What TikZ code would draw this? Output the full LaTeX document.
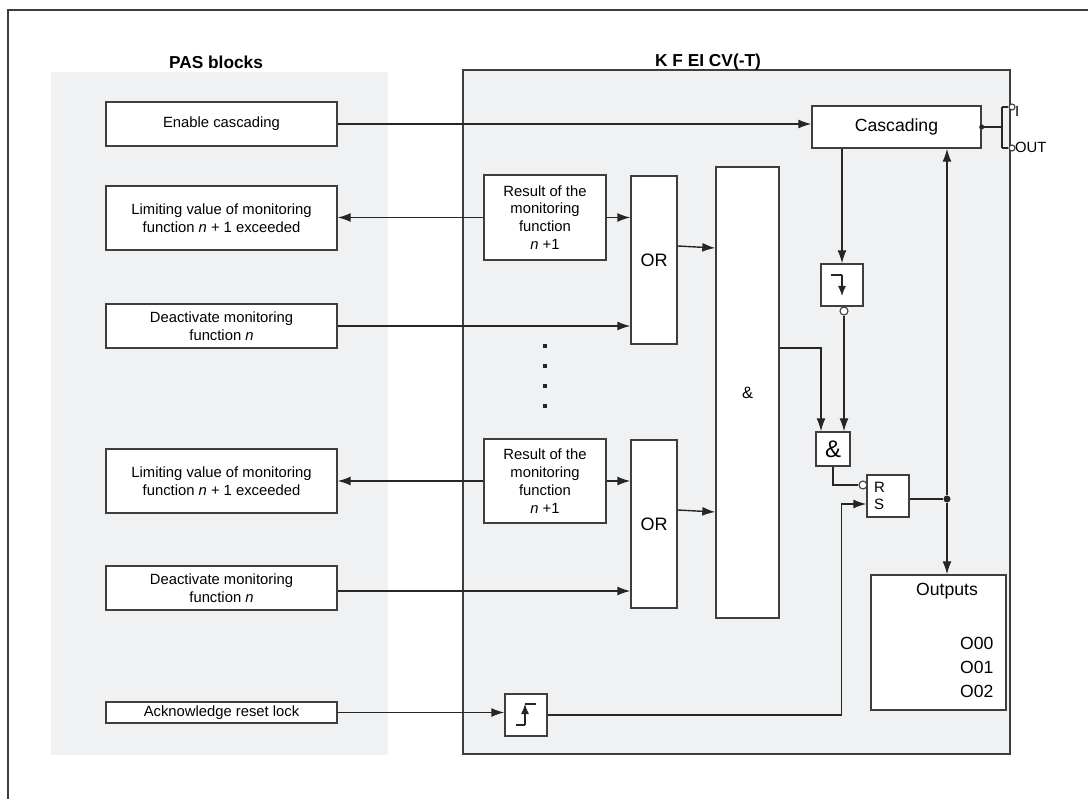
\documentclass[tikz,border=0pt]{standalone}
\usepackage{fontspec}
\setmainfont{Liberation Sans}
\usepackage{xcolor}
\usepackage{tikz}
\usetikzlibrary{calc}
\usetikzlibrary{arrows.meta}
\usetikzlibrary{shapes}
\usetikzlibrary{positioning}

\definecolor{panel}{RGB}{240,241,243}
\definecolor{edge}{RGB}{62,62,62}
\definecolor{wire}{RGB}{38,38,38}

\newcommand{\txtsz}{\fontsize{14.8}{17.8}\selectfont}
\newcommand{\bigsz}{\fontsize{17.6}{20}\selectfont}

\tikzset{
  pasbox/.style={rectangle, draw=edge, fill=white, line width=1.4pt, minimum width=231pt, align=center, inner sep=0pt, font=\txtsz},
  gatebox/.style={rectangle, draw=edge, fill=white, line width=1.4pt, inner sep=0pt, align=center},
  wirearrow/.style={-{Latex[length=13pt,width=9pt]}, draw=wire, line width=1.4pt},
  edgearrow/.style={-{Latex[length=10pt,width=8pt]}, draw=wire, line width=1.2pt},
  wireline/.style={draw=wire, line width=1.4pt},
  negc/.style={circle, draw=edge, fill=white, line width=1.1pt, inner sep=0pt, minimum size=8pt},
  swc/.style={circle, draw=edge, fill=white, line width=1.1pt, inner sep=0pt, minimum size=6pt},
  vdot/.style={rectangle, fill=wire, inner sep=0pt, minimum size=4.5pt},
  jdot/.style={circle, fill=wire, inner sep=0pt, minimum size=5pt},
}

\begin{document}
\begin{tikzpicture}[x=1pt, y=-1pt]
\useasboundingbox (0,0) rectangle (1088,799);
\draw [draw=edge, line width=1.4pt] (1088,10) -- (8,10) -- (8,799);

\fill [panel] (51,72) rectangle (388,755);
\node [font=\fontsize{17.3}{20}\selectfont\bfseries] (pastitle) at (216,62) {PAS blocks};
\draw [draw=edge, fill=panel, line width=1.4pt] (463,70) rectangle (1010,754);
\node [font=\fontsize{17.3}{20}\selectfont\bfseries] (kftitle) at (708,62) {K F EI CV(-T)};

\node [pasbox, minimum height=44pt] (enable) at (221.5,124) {Enable cascading};
\node [pasbox, minimum height=64pt] (limit1) at (221.5,218) {Limiting value of monitoring\\function \textit{n} + 1 exceeded};
\node [pasbox, minimum height=44pt] (deact1) at (221.5,326) {Deactivate monitoring\\function \textit{n}};
\node [pasbox, minimum height=64pt] (limit2) at (221.5,481) {Limiting value of monitoring\\function \textit{n} + 1 exceeded};
\node [pasbox, minimum height=44pt] (deact2) at (221.5,588) {Deactivate monitoring\\function \textit{n}};
\node [pasbox, minimum height=21pt] (ack) at (221.5,712.5) {Acknowledge reset lock};

\node [gatebox, font=\txtsz, minimum width=122pt, minimum height=85pt] (res1) at (545,217.5) {Result of the\\monitoring\\function\\\textit{n} +1};
\node [gatebox, font=\txtsz, minimum width=122pt, minimum height=84pt] (res2) at (545,481) {Result of the\\monitoring\\function\\\textit{n} +1};
\node [gatebox, font=\fontsize{18}{20}\selectfont, minimum width=46pt, minimum height=168pt] (or1) at (654,260) {OR};
\node [gatebox, font=\fontsize{18}{20}\selectfont, minimum width=46pt, minimum height=168pt] (or2) at (654,524) {OR};
\node [gatebox, font=\fontsize{16.5}{20}\selectfont, minimum width=63pt, minimum height=451pt] (band) at (747.5,392.5) {\&};
\foreach \i in {0,...,3}
  \node [vdot] (dot\i) at (545,346+20*\i) {};

\node [gatebox, font=\bigsz, minimum width=169pt, minimum height=42pt] (casc) at (896.5,127) {Cascading};
\node [gatebox, minimum width=42pt, minimum height=42pt] (fall) at (842,285) {};
\node [negc] (neg1) at (844,311) {};
\node [gatebox, font=\fontsize{24}{26}\selectfont, minimum width=34pt, minimum height=34pt] (sand) at (833,449) {\&};
\node [gatebox, minimum width=42pt, minimum height=42pt, text width=28pt, align=left, font=\fontsize{15}{17}\selectfont] (rs) at (888,496) {R\\S};
\node [negc] (neg2) at (863,485) {};
\node [gatebox, minimum width=135pt, minimum height=135pt] (outs) at (938.5,642.5) {};
\node [font=\bigsz] (outlbl) at (947,591) {Outputs};
\node [font=\bigsz, align=right, anchor=east] (olist) at (997,667) {O00\\[4pt]O01\\[4pt]O02};
\node [gatebox, minimum width=42pt, minimum height=42pt] (rise) at (526,715) {};

\node [jdot] (cdot) at (casc.east) {};
\node [jdot, minimum size=7pt] (jn) at (947,499) {};
\coordinate (swtop) at (1002,107);
\coordinate (swbot) at (1002,148);
\node [swc] (swin) at (1012,107) {};
\node [swc] (swout) at (1012,148) {};
\node [font=\txtsz, anchor=west, inner sep=0pt] (ilbl) at (1015,111) {I};
\node [font=\txtsz, anchor=west, inner sep=0pt] (outsw) at (1015,147) {OUT};

\draw [wirearrow] (enable.east) -- (enable.east -| casc.west);
\draw [wirearrow] (res1.west) -- (res1.west -| limit1.east);
\draw [wirearrow] (res2.west) -- (res2.west -| limit2.east);
\draw [wirearrow] (res1.east) -- (res1.east -| or1.west);
\draw [wirearrow] (res2.east) -- (res2.east -| or2.west);
\draw [wirearrow] (deact1.east) -- (deact1.east -| or1.west);
\draw [wirearrow] ([yshift=-3pt]deact2.east) -- ([yshift=-3pt]deact2.east -| or2.west);
\draw [wirearrow] ([yshift=14pt]or1.east) -- ([yshift=12pt]or1.east -| band.west);
\draw [wirearrow] ([yshift=14pt]or2.east) -- ([yshift=12pt]or2.east -| band.west);
\draw [wirearrow] ([yshift=44.5pt]band.east) -| ([xshift=-12pt]sand.north);
\draw [wirearrow] (fall.north |- casc.south) -- (fall.north);
\draw [wirearrow] (neg1.south) -- (neg1.south |- sand.north);
\draw [wireline] (sand.south) |- (neg2.west);
\draw [wirearrow] (ack.east) -- (ack.east -| rise.west);
\draw [wirearrow] (rise.east) -| ([xshift=-25pt,yshift=-8pt]rs.west) -- ([yshift=-8pt]rs.west);
\draw [wireline] ([yshift=-3pt]rs.east) -- (jn);
\draw [wirearrow] (jn) -- (jn |- casc.south);
\draw [wirearrow] (jn) -- (jn |- outs.north);
\draw [wireline] (casc.east) -- (casc.east -| swtop);
\draw [wireline] (swtop) -- (swbot);
\draw [wireline] (swtop) -- (swin.west);
\draw [wireline] (swbot) -- (swout.west);

\draw [wireline, line width=1.2pt] ($(fall.center)+(-11,-10)$) -- ($(fall.center)+(0,-10)$);
\draw [edgearrow] ($(fall.center)+(0,-10)$) -- ($(fall.center)+(0,11)$);
\draw [wireline, line width=1.2pt] ($(rise.center)+(-10,10)$) -- ($(rise.center)+(-1,10)$);
\draw [edgearrow] ($(rise.center)+(-1,10)$) -- ($(rise.center)+(-1,-11)$);
\draw [wireline, line width=1.2pt] ($(rise.center)+(-1,-11)$) -- ($(rise.center)+(10,-11)$);
\end{tikzpicture}
\end{document}
